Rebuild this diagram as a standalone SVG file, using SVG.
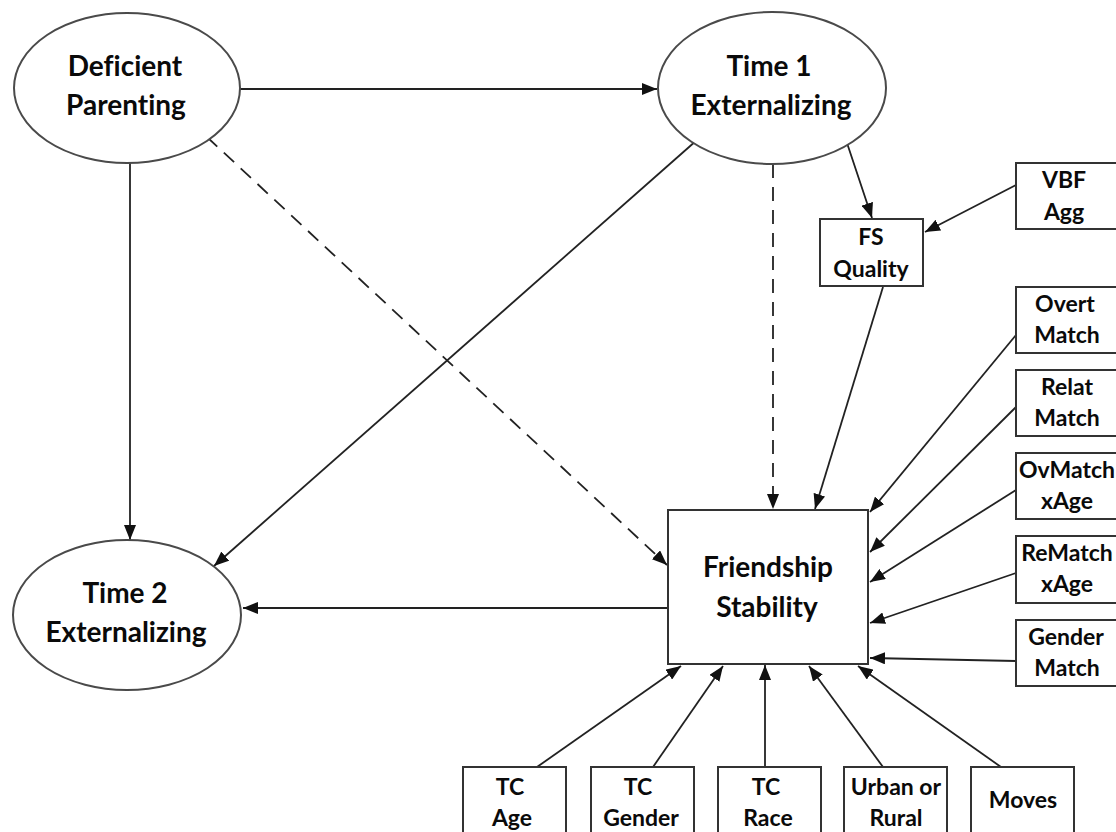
<svg xmlns="http://www.w3.org/2000/svg" width="1116" height="832" viewBox="0 0 1116 832">
<defs>
<style>
.lat{fill:#fff;stroke:#4a4a4a;stroke-width:2}
.box{fill:#fff;stroke:#333;stroke-width:2}
.big{font-family:Lato,"Noto Sans",sans-serif;font-weight:bold;font-size:28px;fill:#0a0a0a;text-anchor:middle;font-variant-ligatures:none}
.sm{font-family:Lato,"Noto Sans",sans-serif;font-weight:bold;font-size:23px;fill:#0a0a0a;text-anchor:middle;font-variant-ligatures:none}
.ln{fill:none;stroke:#222;stroke-width:1.8}
.dash{stroke-dasharray:14 9}
</style>
<marker id="ah" markerUnits="userSpaceOnUse" markerWidth="16" markerHeight="12" refX="15" refY="6" orient="auto">
<path d="M0,0 L15,6 L0,12 z" fill="#111"/>
</marker>
</defs>
<rect width="1116" height="832" fill="#fff"/>
<g id="connectors">
<line class="ln" x1="240" y1="89" x2="657" y2="89" marker-end="url(#ah)"/>
<line class="ln" x1="130" y1="162" x2="130" y2="540" marker-end="url(#ah)"/>
<line class="ln dash" x1="207" y1="137" x2="667" y2="565" marker-end="url(#ah)"/>
<line class="ln" x1="697" y1="140" x2="214" y2="566" marker-end="url(#ah)"/>
<line class="ln dash" x1="773" y1="164" x2="773" y2="509" marker-end="url(#ah)"/>
<line class="ln" x1="847" y1="143" x2="872" y2="218" marker-end="url(#ah)"/>
<line class="ln" x1="1016" y1="185" x2="925" y2="232" marker-end="url(#ah)"/>
<line class="ln" x1="883" y1="287" x2="815" y2="509" marker-end="url(#ah)"/>
<line class="ln" x1="668" y1="608" x2="243" y2="608" marker-end="url(#ah)"/>
<line class="ln" x1="1016" y1="335" x2="870" y2="512" marker-end="url(#ah)"/>
<line class="ln" x1="1016" y1="407" x2="870" y2="552" marker-end="url(#ah)"/>
<line class="ln" x1="1016" y1="490" x2="870" y2="582" marker-end="url(#ah)"/>
<line class="ln" x1="1016" y1="573" x2="870" y2="623" marker-end="url(#ah)"/>
<line class="ln" x1="1016" y1="661" x2="870" y2="658" marker-end="url(#ah)"/>
<line class="ln" x1="537" y1="767" x2="681" y2="666" marker-end="url(#ah)"/>
<line class="ln" x1="653" y1="767" x2="723" y2="666" marker-end="url(#ah)"/>
<line class="ln" x1="765" y1="767" x2="765" y2="665" marker-end="url(#ah)"/>
<line class="ln" x1="883" y1="767" x2="809" y2="666" marker-end="url(#ah)"/>
<line class="ln" x1="1001" y1="767" x2="858" y2="666" marker-end="url(#ah)"/>
</g>
<g id="deficient-parenting">
<ellipse class="lat" cx="127" cy="88" rx="113" ry="75"/>
<text class="big" x="125" y="76">Deficient</text>
<text class="big" x="126" y="115">Parenting</text>
</g>
<g id="time1-externalizing">
<ellipse class="lat" cx="772" cy="88" rx="114" ry="76"/>
<text class="big" x="769" y="76">Time 1</text>
<text class="big" x="771" y="115">Externalizing</text>
</g>
<g id="time2-externalizing">
<ellipse class="lat" cx="127" cy="615" rx="114" ry="75"/>
<text class="big" x="125" y="603">Time 2</text>
<text class="big" x="126" y="642">Externalizing</text>
</g>
<g id="friendship-stability">
<rect class="box" x="668" y="510" width="200" height="154"/>
<text class="big" x="768" y="577">Friendship</text>
<text class="big" x="767" y="617">Stability</text>
</g>
<g id="fs-quality">
<rect class="box" x="820" y="219" width="103" height="67"/>
<text class="sm" x="871" y="245">FS</text>
<text class="sm" x="871" y="277">Quality</text>
</g>
<g id="vbf-agg">
<rect class="box" x="1016" y="163" width="103" height="66"/>
<text class="sm" x="1064" y="188">VBF</text>
<text class="sm" x="1064" y="220">Agg</text>
</g>
<g id="overt-match">
<rect class="box" x="1016" y="287" width="103" height="66"/>
<text class="sm" x="1065" y="312">Overt</text>
<text class="sm" x="1067" y="343">Match</text>
</g>
<g id="relat-match">
<rect class="box" x="1016" y="370" width="103" height="66"/>
<text class="sm" x="1067" y="395">Relat</text>
<text class="sm" x="1067" y="426">Match</text>
</g>
<g id="ovmatch-xage">
<rect class="box" x="1016" y="453" width="103" height="66"/>
<text class="sm" x="1067" y="478">OvMatch</text>
<text class="sm" x="1067" y="509">xAge</text>
</g>
<g id="rematch-xage">
<rect class="box" x="1016" y="536" width="103" height="67"/>
<text class="sm" x="1067" y="561">ReMatch</text>
<text class="sm" x="1067" y="592">xAge</text>
</g>
<g id="gender-match">
<rect class="box" x="1016" y="620" width="103" height="66"/>
<text class="sm" x="1066" y="645">Gender</text>
<text class="sm" x="1067" y="676">Match</text>
</g>
<g id="tc-age">
<rect class="box" x="463" y="767" width="103" height="75"/>
<text class="sm" x="510" y="795">TC</text>
<text class="sm" x="512" y="826">Age</text>
</g>
<g id="tc-gender">
<rect class="box" x="591" y="767" width="103" height="75"/>
<text class="sm" x="638" y="795">TC</text>
<text class="sm" x="641" y="826">Gender</text>
</g>
<g id="tc-race">
<rect class="box" x="718" y="767" width="103" height="75"/>
<text class="sm" x="766" y="795">TC</text>
<text class="sm" x="768" y="826">Race</text>
</g>
<g id="urban-rural">
<rect class="box" x="844" y="767" width="103" height="75"/>
<text class="sm" x="896" y="795">Urban or</text>
<text class="sm" x="896" y="826">Rural</text>
</g>
<g id="moves">
<rect class="box" x="971" y="767" width="103" height="75"/>
<text class="sm" x="1023" y="808">Moves</text>
</g>
</svg>
